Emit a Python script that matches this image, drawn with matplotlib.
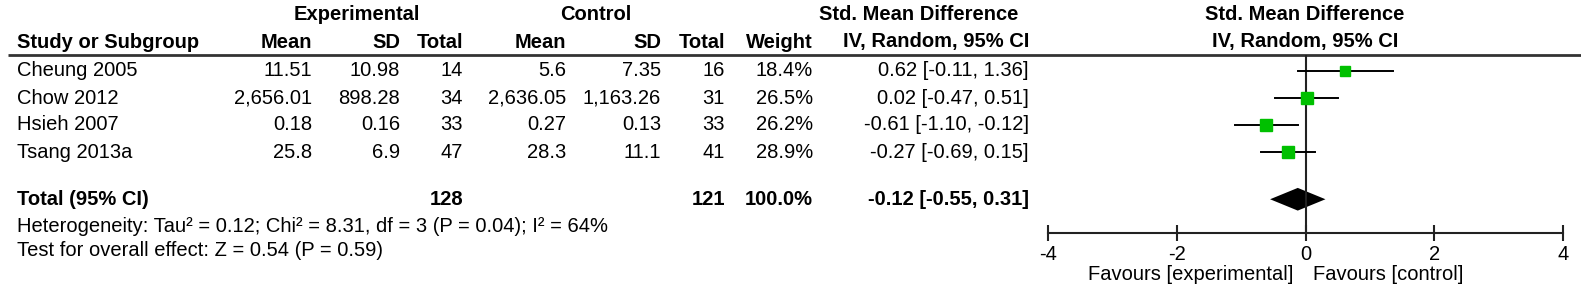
import numpy as np
import matplotlib
matplotlib.use('Agg')
import matplotlib.pyplot as plt

plt.rcParams['font.family'] = ['Liberation Sans', 'DejaVu Sans']

# study data
studies = ['Cheung 2005', 'Chow 2012', 'Hsieh 2007', 'Tsang 2013a']
exp_mean = [11.51, 2656.01, 0.18, 25.8]
exp_sd = [10.98, 898.28, 0.16, 6.9]
exp_n = [14, 34, 33, 47]
ctl_mean = [5.6, 2636.05, 0.27, 28.3]
ctl_sd = [7.35, 1163.26, 0.13, 11.1]
ctl_n = [16, 31, 33, 41]
weight = [18.4, 26.5, 26.2, 28.9]
smd = [0.62, 0.02, -0.61, -0.27]
ci_lo = [-0.11, -0.47, -1.10, -0.69]
ci_hi = [1.36, 0.51, -0.12, 0.15]

total_exp_n = 128
total_ctl_n = 121
total_weight = 100.0
total_smd = -0.12
total_lo = -0.55
total_hi = 0.31

het_text = 'Heterogeneity: Tau\u00b2 = 0.12; Chi\u00b2 = 8.31, df = 3 (P = 0.04); I\u00b2 = 64%'
test_text = 'Test for overall effect: Z = 0.54 (P = 0.59)'

x_ticks = [-4, -2, 0, 2, 4]
fav_left = 'Favours [experimental]'
fav_right = 'Favours [control]'

W, H = 1581, 288
fig = plt.figure(figsize=(W / 100, H / 100), dpi=100)
fig.patch.set_facecolor('white')

# table axes in pixel units
ax = fig.add_axes([0, 0, 1, 1])
ax.set_xlim(0, W)
ax.set_ylim(H, 0)
ax.axis('off')

fs = 14.5
y0 = 71      # first row centre
dy = 27      # row spacing
total_row = 4.75   # blank row before total (RevMan style)
y_total = y0 + total_row * dy
y_axis = 233
y_line = 55

def row_y(i):
    return y0 + i * dy

# column right edges
cx = dict(name=17, em=312, esd=400, en=463, cm=566, csd=661, cn=725, w=813, ci=1029)

bold = dict(fontsize=fs, fontweight='bold', va='center')
norm = dict(fontsize=fs, va='center')

ax.text(357, 15, 'Experimental', ha='center', **bold)
ax.text(596, 15, 'Control', ha='center', **bold)
ax.text(919, 15, 'Std. Mean Difference', ha='center', **bold)
ax.text(1305, 15, 'Std. Mean Difference', ha='center', **bold)

ax.text(cx['name'], 42, 'Study or Subgroup', ha='left', **bold)
for key, lab in [('em', 'Mean'), ('esd', 'SD'), ('en', 'Total'), ('cm', 'Mean'),
                 ('csd', 'SD'), ('cn', 'Total'), ('w', 'Weight'), ('ci', 'IV, Random, 95% CI')]:
    ax.text(cx[key], 42, lab, ha='right', **bold)
ax.text(1305, 42, 'IV, Random, 95% CI', ha='center', **bold)

ax.plot([8, W], [y_line, y_line], color='#333333', lw=2, solid_capstyle='butt')

for i, s in enumerate(studies):
    y = row_y(i)
    ax.text(cx['name'], y, s, ha='left', **norm)
    ax.text(cx['em'], y, f'{exp_mean[i]:,}', ha='right', **norm)
    ax.text(cx['esd'], y, f'{exp_sd[i]:,}', ha='right', **norm)
    ax.text(cx['en'], y, f'{exp_n[i]}', ha='right', **norm)
    ax.text(cx['cm'], y, f'{ctl_mean[i]:,}', ha='right', **norm)
    ax.text(cx['csd'], y, f'{ctl_sd[i]:,}', ha='right', **norm)
    ax.text(cx['cn'], y, f'{ctl_n[i]}', ha='right', **norm)
    ax.text(cx['w'], y, f'{weight[i]:.1f}%', ha='right', **norm)
    ax.text(cx['ci'], y, f'{smd[i]:.2f} [{ci_lo[i]:.2f}, {ci_hi[i]:.2f}]', ha='right', **norm)

ax.text(cx['name'], y_total, 'Total (95% CI)', ha='left', **bold)
ax.text(cx['en'], y_total, f'{total_exp_n}', ha='right', **bold)
ax.text(cx['cn'], y_total, f'{total_ctl_n}', ha='right', **bold)
ax.text(cx['w'], y_total, f'{total_weight:.1f}%', ha='right', **bold)
ax.text(cx['ci'], y_total, f'{total_smd:.2f} [{total_lo:.2f}, {total_hi:.2f}]', ha='right', **bold)

ax.text(cx['name'], 226, het_text, ha='left', **norm)
ax.text(cx['name'], 251, test_text, ha='left', **norm)

# forest plot axes, y in row units
x_left, x_right = 1048, 1563
fa = fig.add_axes([x_left / W, 1 - y_axis / H, (x_right - x_left) / W, (y_axis - y_line) / H])
fa.patch.set_alpha(0)
fa.set_xlim(-4, 4)
fa.set_ylim((y_axis - y0) / dy, (y_line - y0) / dy)
for sp in ['top', 'left', 'right']:
    fa.spines[sp].set_visible(False)
fa.spines['bottom'].set_linewidth(1.5)
fa.spines['bottom'].set_color('#222222')
fa.set_yticks([])
fa.set_xticks(x_ticks)
fa.set_xticklabels([str(t) for t in x_ticks], fontsize=fs)
fa.tick_params(axis='x', direction='inout', length=12, width=1.5, pad=3, color='#222222')

fa.axvline(0, color='#222222', lw=1.5)

for i in range(len(studies)):
    fa.plot([ci_lo[i], ci_hi[i]], [i, i], color='black', lw=1.4)
    fa.plot(smd[i], i, marker='s', ms=1.6 * np.sqrt(weight[i]), color='#00c000',
            mec='#00c000', ls='none')

dh = 0.42
fa.fill([total_lo, total_smd, total_hi, total_smd],
        [total_row, total_row - dh, total_row, total_row + dh], color='black', lw=0)

fig.text(1293 / W, 1 - 275 / H, fav_left, ha='right', va='center', fontsize=fs)
fig.text(1313 / W, 1 - 275 / H, fav_right, ha='left', va='center', fontsize=fs)

fig.savefig('out.png', dpi=100, facecolor='white')
